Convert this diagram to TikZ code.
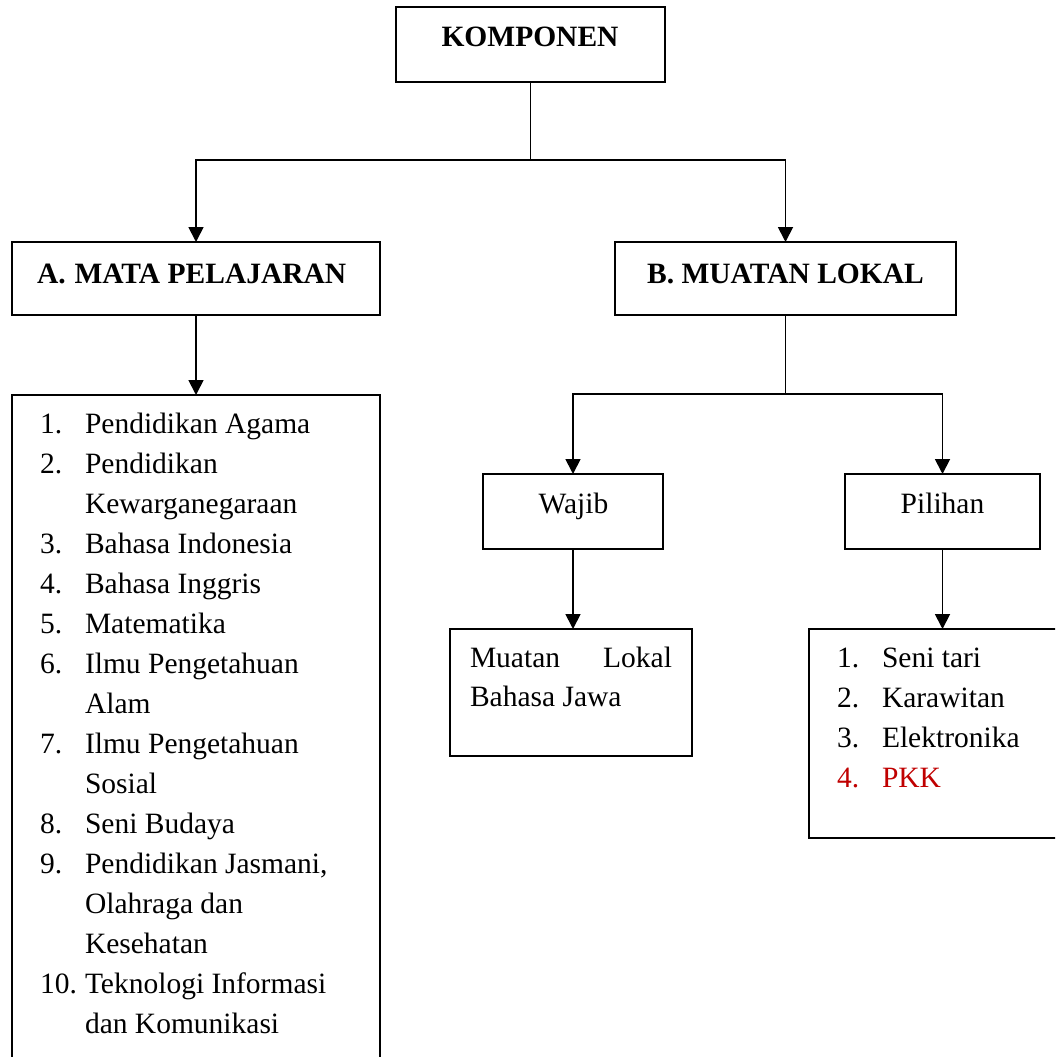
\documentclass[tikz,border=0pt]{standalone}
\usepackage{fontspec}
\setmainfont{Liberation Serif}
\usetikzlibrary{arrows.meta}
\definecolor{pkkred}{RGB}{192,0,0}
\begin{document}
\begin{tikzpicture}[x=1pt,y=-1pt,
  every node/.style={font=\fontsize{29.5pt}{40pt}\selectfont, inner sep=0pt, outer sep=0pt},
  bx/.style={draw, line width=1.8pt},
  ln/.style={line width=1.8pt},
  arr/.style={line width=1.8pt, -{Triangle[width=15pt,length=15pt]}},
  txt/.style={anchor=base west},
  num/.style={anchor=base west}]
\useasboundingbox (0,0) rectangle (1055,1057);
\clip (0,0) rectangle (1055,1057);
\fill[white] (0,0) rectangle (1055,1057);

% boxes
\node[bx, minimum width=269pt, minimum height=75pt] (komp) at (530.5,44.5) {};
\node[bx, minimum width=368pt, minimum height=73pt] (a) at (196,278.5) {};
\node[bx, minimum width=341pt, minimum height=73pt] (b) at (785.5,278.5) {};
\node[bx, minimum width=368pt, minimum height=685pt] (mapel) at (196,737.5) {};
\node[bx, minimum width=180pt, minimum height=75pt] (wajib) at (573,511.5) {};
\node[bx, minimum width=195pt, minimum height=75pt] (pil) at (942.5,511.5) {};
\node[bx, minimum width=242pt, minimum height=127pt] (mulok) at (571,692.5) {};
\node[bx, minimum width=271pt, minimum height=209pt] (opsi) at (944.5,733.5) {};

% headings
\node[anchor=base, font=\fontsize{29.5pt}{40pt}\selectfont\bfseries] (kompt) at (530,47) {KOMPONEN};
\node[anchor=base west, font=\fontsize{29.5pt}{40pt}\selectfont\bfseries] (at) at (37,283) {A.\hspace{0.3em}MATA PELAJARAN};
\node[anchor=base, font=\fontsize{29.5pt}{40pt}\selectfont\bfseries] (bt) at (785.5,283) {B. MUATAN LOKAL};
\node[anchor=base] (wt) at (573.5,513) {Wajib};
\node[anchor=base] (pt) at (942.5,513) {Pilihan};

% connectors
\coordinate (h1) at (0,160);
\coordinate (h2) at (0,394);
\draw[ln] (komp.south) -- (komp.south |- h1);
\draw[arr] (komp.south |- h1) -| (a.north);
\draw[arr] (komp.south |- h1) -| (b.north);
\draw[arr] (a.south) -- (a.south |- mapel.north);
\draw[ln] (b.south) -- (b.south |- h2);
\draw[arr] (b.south |- h2) -| (wajib.north);
\draw[arr] (b.south |- h2) -| (pil.north);
\draw[arr] (wajib.south) -- (wajib.south |- mulok.north);
\draw[arr] (pil.south) -- (pil.south |- opsi.north);

% left list
\node[num] (n1) at (40,433) {1.};   \node[txt] (t1) at (85,433) {Pendidikan Agama};
\node[num] (n2) at (40,473) {2.};   \node[txt] (t2) at (85,473) {Pendidikan};
                                     \node[txt] (t2b) at (85,513) {Kewarganegaraan};
\node[num] (n3) at (40,553) {3.};   \node[txt] (t3) at (85,553) {Bahasa Indonesia};
\node[num] (n4) at (40,593) {4.};   \node[txt] (t4) at (85,593) {Bahasa Inggris};
\node[num] (n5) at (40,633) {5.};   \node[txt] (t5) at (85,633) {Matematika};
\node[num] (n6) at (40,673) {6.};   \node[txt] (t6) at (85,673) {Ilmu Pengetahuan};
                                     \node[txt] (t6b) at (85,713) {Alam};
\node[num] (n7) at (40,753) {7.};   \node[txt] (t7) at (85,753) {Ilmu Pengetahuan};
                                     \node[txt] (t7b) at (85,793) {Sosial};
\node[num] (n8) at (40,833) {8.};   \node[txt] (t8) at (85,833) {Seni Budaya};
\node[num] (n9) at (40,873) {9.};   \node[txt] (t9) at (85,873) {Pendidikan Jasmani,};
                                     \node[txt] (t9b) at (85,913) {Olahraga dan};
                                     \node[txt] (t9c) at (85,953) {Kesehatan};
\node[num] (n10) at (40,993) {10.}; \node[txt] (t10) at (85,993) {Teknologi Informasi};
                                     \node[txt] (t10b) at (85,1033) {dan Komunikasi};

% wajib content
\node[txt] (m1) at (470,667) {\makebox[202pt][s]{Muatan Lokal}};
\node[txt] (m2) at (470,706) {Bahasa Jawa};

% pilihan list
\node[num] (r1) at (837,667) {1.}; \node[txt] (s1) at (882,667) {Seni tari};
\node[num] (r2) at (837,707) {2.}; \node[txt] (s2) at (882,707) {Karawitan};
\node[num] (r3) at (837,747) {3.}; \node[txt] (s3) at (882,747) {Elektronika};
\node[num, text=pkkred] (r4) at (837,787) {4.}; \node[txt, text=pkkred] (s4) at (882,787) {PKK};
\end{tikzpicture}
\end{document}
